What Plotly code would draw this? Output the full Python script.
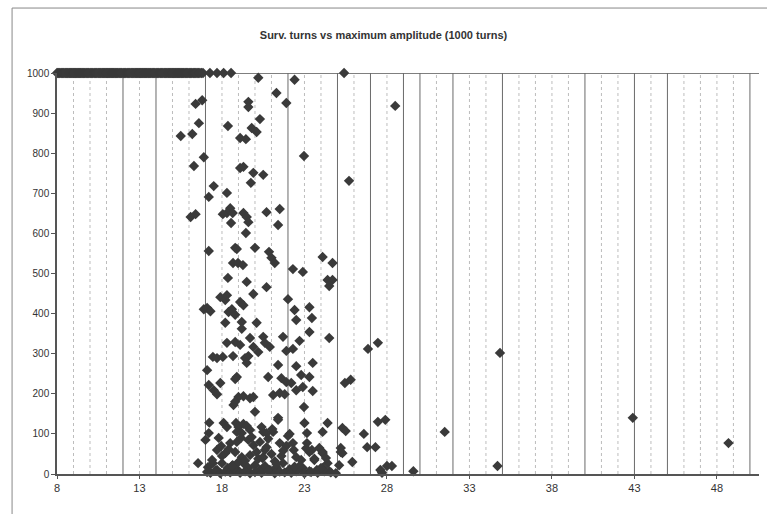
import plotly.graph_objects as go

# ---- data ----
# points that survived all 1000 turns (a dense band from 8 to ~16.9, then a few stragglers)
surv_x = [8.0, 8.06, 8.12, 8.18, 8.25, 8.31, 8.37, 8.43, 8.5, 8.56, 8.62, 8.68, 8.75, 8.81,
          8.87, 8.93, 9.0, 9.06, 9.12, 9.18, 9.25, 9.31, 9.37, 9.43, 9.5, 9.56, 9.62, 9.68,
          9.75, 9.81, 9.87, 9.93, 10.0, 10.06, 10.12, 10.18, 10.25, 10.31, 10.37, 10.43, 10.5,
          10.56, 10.62, 10.68, 10.75, 10.81, 10.87, 10.93, 11.0, 11.06, 11.12, 11.18, 11.25,
          11.31, 11.37, 11.43, 11.5, 11.56, 11.62, 11.68, 11.75, 11.81, 11.87, 11.93, 12.0,
          12.06, 12.12, 12.18, 12.25, 12.31, 12.37, 12.43, 12.5, 12.56, 12.62, 12.68, 12.75,
          12.81, 12.87, 12.93, 13.0, 13.06, 13.12, 13.18, 13.25, 13.31, 13.37, 13.43, 13.5,
          13.56, 13.62, 13.68, 13.75, 13.81, 13.87, 13.93, 14.0, 14.06, 14.12, 14.18, 14.25,
          14.31, 14.37, 14.43, 14.5, 14.56, 14.62, 14.68, 14.75, 14.81, 14.87, 14.93, 15.0,
          15.06, 15.12, 15.18, 15.25, 15.31, 15.37, 15.43, 15.5, 15.56, 15.62, 15.68, 15.75,
          15.81, 15.87, 15.93, 16.0, 16.06, 16.12, 16.18, 16.25, 16.31, 16.37, 16.43, 16.5,
          16.58, 16.66, 16.75, 16.85, 17.27, 17.7, 18.1, 18.55, 25.4]
surv_y = [1000] * len(surv_x)

# points lost before 1000 turns: maximum amplitude vs surviving turns
lost_x = [20.2, 22.4, 21.3, 21.9, 16.4, 16.8, 16.6, 16.2, 15.5, 16.3, 16.9, 18.36, 19.6, 19.6,
          19.1, 19.45, 19.8, 20.1, 20.3, 22.97, 19.1, 19.3, 19.9, 20.5, 19.75, 17.5, 17.2, 18.3,
          25.7, 28.5, 18.5, 18.3, 18.05, 18.65, 18.55, 19.3, 19.5, 19.6, 19.45, 20.7, 21.5, 21.4,
          16.1, 16.4, 17.2, 18.8, 18.9, 20.0, 20.85, 24.1, 21.0, 21.2, 18.67, 18.97, 19.27, 22.3,
          22.9, 24.7, 18.36, 19.5, 24.4, 24.7, 24.5, 20.7, 19.9, 16.9, 17.1, 17.3, 17.9, 18.2,
          18.3, 19.1, 19.3, 18.4, 18.6, 18.8, 22.0, 22.4, 22.5, 23.3, 23.45, 18.2, 19.2, 19.2,
          20.1, 23.3, 24.5, 21.7, 19.7, 20.5, 20.6, 20.9, 18.3, 18.8, 19.1, 22.7, 21.9, 22.3,
          19.9, 20.2, 17.45, 17.7, 18.05, 18.67, 19.4, 19.6, 19.5, 21.4, 22.5, 23.5, 17.1, 18.9,
          18.8, 20.8, 21.6, 21.9, 22.2, 22.8, 23.3, 25.45, 25.8, 17.2, 17.5, 17.9, 17.7, 19.0,
          19.3, 19.7, 19.9, 21.1, 21.5, 21.8, 22.5, 22.9, 23.5, 18.7, 18.8, 22.97, 20.0, 21.4,
          26.85, 27.45, 27.9, 27.45, 26.6, 31.5, 34.85, 42.9, 48.7,
          # dense low cluster
          17.23, 17.2, 18.1, 18.3, 18.85, 19.0, 19.3, 19.5, 18.9, 19.2, 19.7, 20.4, 20.5, 20.7,
          21.1, 21.4, 22.1, 23.0, 23.15, 24.1, 24.4, 25.3, 25.5, 17.8, 18.5, 18.9, 19.6, 19.9,
          20.3, 20.7, 21.5, 21.9, 22.3, 23.15, 23.45, 24.1, 17.7, 18.2, 18.8, 19.2, 19.7, 20.1,
          20.5, 21.0, 21.6, 22.5, 22.8, 23.6, 24.4, 25.2, 25.3, 16.55, 17.15, 17.45, 17.7, 18.0,
          18.35, 18.65, 18.95, 19.3, 19.6, 20.0, 20.3, 20.6, 20.9, 21.3, 21.7, 22.1, 22.5, 22.9,
          23.3, 23.75, 24.1, 24.5, 17.1, 17.3, 17.6, 17.9, 18.2, 18.5, 18.8, 19.1, 19.4, 19.7,
          20.0, 20.4, 20.8, 21.2, 21.5, 21.8, 22.2, 22.6, 23.0, 23.4, 23.8, 24.2, 24.6, 24.9,
          23.3, 23.9, 24.1, 25.1, 25.2, 25.9, 26.8, 27.3, 27.6, 27.7, 28.0, 28.3, 29.6, 34.7,
          17.4, 18.4, 19.0, 19.8, 20.2, 20.8, 21.2, 21.7, 22.0, 22.7, 23.1, 24.3, 18.0, 18.6,
          19.4, 20.6, 21.3, 22.4, 23.6, 17.0, 17.95, 19.15, 20.45, 21.05, 22.35, 24.0]
lost_y = [988, 983, 950, 925, 923, 932, 875, 848, 843, 768, 790, 868, 928, 915,
          838, 835, 863, 853, 885, 793, 763, 766, 751, 746, 726, 718, 691, 701,
          731, 918, 663, 651, 648, 651, 626, 651, 641, 628, 601, 653, 661, 621,
          641, 648, 556, 564, 561, 564, 554, 541, 539, 526, 526, 526, 521, 511,
          504, 526, 489, 479, 484, 484, 469, 466, 449, 411, 414, 406, 441, 434,
          446, 429, 421, 404, 411, 397, 436, 409, 384, 416, 389, 377, 379, 362,
          377, 354, 339, 342, 339, 342, 327, 317, 327, 329, 322, 332, 307, 312,
          317, 304, 292, 289, 292, 294, 289, 294, 277, 272, 269, 277, 259, 242,
          237, 242, 239, 229, 227, 247, 242, 227, 235, 222, 209, 227, 199, 192,
          194, 189, 192, 197, 202, 199, 209, 217, 207, 172, 180, 167, 155, 140,
          312, 327, 135, 130, 100, 105, 302, 140, 77,
          # dense low cluster
          128, 102, 127, 117, 127, 117, 125, 120, 105, 102, 110, 117, 105, 102,
          105, 135, 100, 127, 102, 105, 127, 115, 107, 90, 77, 80, 85, 72,
          80, 67, 77, 70, 77, 77, 60, 55, 60, 52, 55, 42, 47, 55,
          42, 50, 45, 42, 35, 35, 27, 65, 52, 27, 17, 27, 10, 27,
          15, 22, 10, 27, 15, 22, 10, 20, 10, 17, 27, 12, 7, 15,
          7, 10, 15, 7, 5, 3, 8, 2, 6, 4, 9, 3, 7, 2,
          5, 3, 8, 2, 6, 4, 3, 9, 2, 5, 3, 7, 4, 2,
          55, 65, 52, 22, 55, 30, 67, 67, 10, 3, 20, 20, 7, 20,
          35, 62, 30, 92, 38, 88, 32, 58, 95, 20, 64, 40, 45, 20,
          33, 60, 25, 18, 38, 85, 70, 90, 40, 112, 60, 15]

# vertical reference lines (integer amplitudes)
solid_lines = [12, 14, 17, 22, 25, 27, 29, 30, 32, 35, 40, 43, 45, 50]
dotted_lines = [9, 10, 11, 13, 15, 16, 18, 19, 20, 21, 23, 24, 26, 28, 31, 33, 34, 36, 37,
                38, 39, 41, 42, 44, 46, 47, 48, 49]

x_ticks = [8, 13, 18, 23, 28, 33, 38, 43, 48]
y_ticks = [0, 100, 200, 300, 400, 500, 600, 700, 800, 900, 1000]

title_text = "Surv. turns vs maximum amplitude (1000 turns)"

# ---- figure ----
marker_style = dict(symbol="diamond", size=8, color="#3a3a3a")
fig = go.Figure()
fig.add_trace(go.Scatter(x=surv_x, y=surv_y, mode="markers", marker=marker_style,
                         cliponaxis=False, showlegend=False))
fig.add_trace(go.Scatter(x=lost_x, y=lost_y, mode="markers", marker=marker_style,
                         cliponaxis=False, showlegend=False))

shapes = []
for v in dotted_lines:
    shapes.append(dict(type="line", xref="x", yref="y", x0=v, x1=v, y0=0, y1=1000,
                       line=dict(color="#bdbdbd", width=1, dash="dot"), layer="below"))
for v in solid_lines:
    shapes.append(dict(type="line", xref="x", yref="y", x0=v, x1=v, y0=0, y1=1000,
                       line=dict(color="#6a6a6a", width=1), layer="below"))
# top line at 1000
shapes.append(dict(type="line", xref="paper", yref="y", x0=0, x1=1, y0=1000, y1=1000,
                   line=dict(color="#555555", width=1.5), layer="below"))
# outer chart frame
shapes.append(dict(type="rect", xref="paper", yref="paper",
                   x0=-0.064, x1=1.02, y0=-0.163, y1=1.162,
                   line=dict(color="#888888", width=1)))
fig.update_layout(shapes=shapes)

font = dict(family="Liberation Sans, Arial, sans-serif", size=11, color="#333333")
fig.update_layout(
    width=767, height=514,
    margin=dict(l=57, r=8, t=73, b=40),
    paper_bgcolor="white", plot_bgcolor="white",
    font=font,
    title=dict(text="<b>" + title_text + "</b>", x=0.5, xanchor="center",
               y=1 - 35 / 514, yanchor="middle",
               font=dict(family="Liberation Sans, Arial, sans-serif", size=11, color="#333333")),
    xaxis=dict(range=[8, 50.55], tickvals=x_ticks, ticktext=[str(t) for t in x_ticks],
               showgrid=False, zeroline=False, showline=True, linecolor="#555555",
               linewidth=1.5, ticks="outside", ticklen=3, tickcolor="#555555",
               tickfont=dict(family="Liberation Sans, Arial, sans-serif", size=11,
                             color="#333333")),
    yaxis=dict(range=[0, 1000], tickvals=y_ticks, ticktext=[str(t) for t in y_ticks],
               showgrid=False, zeroline=False, showline=True, linecolor="#555555",
               linewidth=1.5, ticks="outside", ticklen=4, tickcolor="#555555",
               tickfont=dict(family="Liberation Sans, Arial, sans-serif", size=10,
                             color="#333333")),
)

fig.write_html("out.html")
